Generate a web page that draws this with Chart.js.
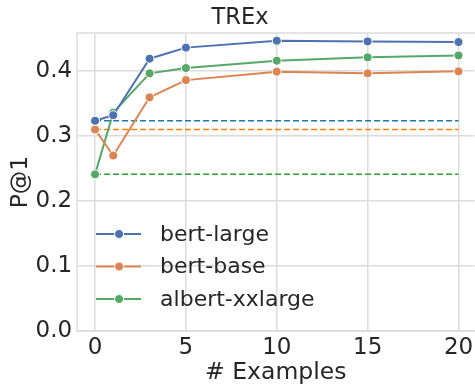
<!DOCTYPE html>
<html>
<head>
<meta charset="utf-8">
<script src="https://cdn.jsdelivr.net/npm/chart.js@4"></script>
<style>
  html, body { margin: 0; padding: 0; background: #fff; overflow: hidden; }
  #wrap { width: 480px; height: 385px; }
</style>
</head>
<body>
<div id="wrap"><canvas id="trexChart"></canvas></div>
<script>
// ===== Data =====
const examples = [0, 1, 3, 5, 10, 15, 20];
const bertLarge = [0.3235, 0.332, 0.419, 0.436, 0.4466, 0.4456, 0.4446];
const bertBase = [0.310, 0.270, 0.3595, 0.386, 0.399, 0.3964, 0.3995];
const albertXXL = [0.241, 0.336, 0.3964, 0.4046, 0.4159, 0.421, 0.424];
// zero-shot baselines (dashed)
const baselineX = [0, 20];
const baselines = [0.3235, 0.310, 0.241];
const xTicks = [0, 5, 10, 15, 20];
const yTicks = [0, 0.1, 0.2, 0.3, 0.4];

const textColor = '#262626';
const gridColor = '#dcdcdc';
const font = 'DejaVu Sans';

const toPts = (xs, ys) => xs.map((x, i) => ({ x: x, y: ys[i] }));

function lineSet(label, values, color) {
  return {
    label: label,
    data: toPts(examples, values),
    borderColor: color,
    backgroundColor: color,
    borderWidth: 2,
    pointRadius: 4.5,
    pointHoverRadius: 4.5,
    pointBorderColor: '#ffffff',
    pointBorderWidth: 1,
    showInLegend: true
  };
}

function dashSet(value, color) {
  return {
    label: '',
    data: toPts(baselineX, [value, value]),
    borderColor: color,
    borderWidth: 1.5,
    borderDash: [6, 3],
    pointRadius: 0
  };
}

// ===== Plugins =====
const frame = {
  id: 'frame',
  beforeDatasetsDraw(chart) {
    const { ctx, chartArea: a } = chart;
    ctx.save();
    ctx.strokeStyle = gridColor;
    ctx.lineWidth = 1.5;
    ctx.strokeRect(a.left, a.top, a.right - a.left + 5, a.bottom - a.top);
    ctx.restore();
  }
};

const innerLegend = {
  id: 'innerLegend',
  afterDraw(chart) {
    const { ctx, chartArea: a } = chart;
    const items = chart.data.datasets.filter(d => d.showInLegend);
    ctx.save();
    ctx.font = '22px "' + font + '"';
    ctx.textBaseline = 'middle';
    items.forEach((d, i) => {
      const y = a.bottom - 97 + i * 32.5;
      const x0 = a.left + 19;
      ctx.strokeStyle = d.borderColor;
      ctx.lineWidth = 2;
      ctx.beginPath();
      ctx.moveTo(x0, y);
      ctx.lineTo(x0 + 45, y);
      ctx.stroke();
      ctx.beginPath();
      ctx.arc(x0 + 23, y, 4.5, 0, Math.PI * 2);
      ctx.fillStyle = d.backgroundColor;
      ctx.fill();
      ctx.strokeStyle = '#fff';
      ctx.lineWidth = 1;
      ctx.stroke();
      ctx.fillStyle = textColor;
      ctx.fillText(d.label, x0 + 64, y + 1);
    });
    ctx.restore();
  }
};

// ===== Chart =====
const ctx = document.getElementById('trexChart');
new Chart(ctx, {
  type: 'line',
  data: {
    datasets: [
      lineSet('bert-large', bertLarge, '#4c72b0'),
      lineSet('bert-base', bertBase, '#dd8452'),
      lineSet('albert-xxlarge', albertXXL, '#55a868'),
      dashSet(baselines[0], '#1f77b4'),
      dashSet(baselines[1], '#ff7f0e'),
      dashSet(baselines[2], '#2ca02c')
    ]
  },
  options: {
    responsive: true,
    maintainAspectRatio: false,
    animation: false,
    layout: { padding: { left: 0, right: 0, top: 0, bottom: 0 } },
    plugins: {
      legend: { display: false },
      tooltip: { enabled: false },
      title: {
        display: true,
        text: 'TREx',
        color: textColor,
        font: { family: font, size: 22.5, weight: 'normal' },
        padding: { top: 4.5, bottom: 1.5 }
      }
    },
    scales: {
      x: {
        type: 'linear',
        min: -0.99,
        max: 20.88,
        afterBuildTicks: s => { s.ticks = xTicks.map(v => ({ value: v })); },
        afterFit: s => { s.height = 54; },
        grid: { color: gridColor, lineWidth: 1.5, drawTicks: false },
        border: { display: false },
        ticks: { color: textColor, padding: 6, font: { family: font, size: 23, lineHeight: 1 } },
        title: {
          display: true,
          text: '# Examples',
          color: textColor,
          font: { family: font, size: 23.5, lineHeight: 1 },
          padding: { top: 0, bottom: 0 }
        }
      },
      y: {
        min: 0,
        max: 0.4585,
        afterBuildTicks: s => { s.ticks = yTicks.map(v => ({ value: v })); },
        grid: { color: gridColor, lineWidth: 1.5, drawTicks: false },
        border: { display: false },
        ticks: {
          color: textColor,
          padding: 5,
          font: { family: font, size: 23, lineHeight: 1 },
          callback: v => v.toFixed(1)
        },
        title: {
          display: true,
          text: 'P@1',
          color: textColor,
          font: { family: font, size: 23.5, lineHeight: 1 },
          padding: { top: 9, bottom: -2 }
        }
      }
    }
  },
  plugins: [frame, innerLegend]
});
</script>
</body>
</html>
